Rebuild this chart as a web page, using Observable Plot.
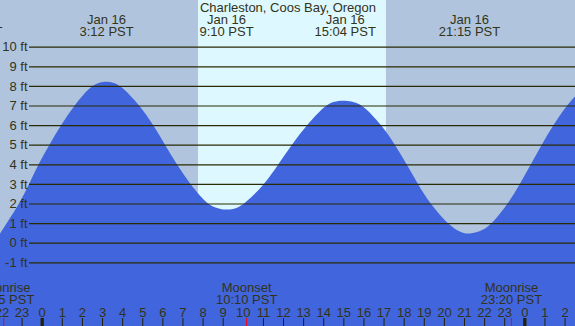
<!DOCTYPE html>
<html>
<head>
<meta charset="utf-8">
<script src="https://cdn.jsdelivr.net/npm/d3@7"></script>
<script src="https://cdn.jsdelivr.net/npm/@observablehq/plot@0.6"></script>
<style>
  html, body { margin: 0; padding: 0; background: #b0c4de; }
  #chart svg { display: block; }
</style>
</head>
<body>
<div id="chart"></div>
<script>
// ---- data ----
const title = "Charleston, Coos Bay, Oregon";

// tide curve: hours since midnight Jan 16 (PST), height in feet
const tideHours = [-2.1, -1.74, -1.11, -0.62, -0.17, 0.38, 0.96, 1.61, 2.44, 2.9, 3.2, 3.6, 3.94, 4.89, 5.55, 6.13, 6.71, 7.37, 8.2, 8.62, 9.17, 9.7, 10.11, 11.1, 11.77, 12.43, 13.18, 14.09, 14.5, 15.07, 15.58, 15.99, 16.91, 17.57, 18.15, 18.7, 19.31, 20.14, 20.8, 21.25, 21.96, 22.46, 23.2, 23.78, 24.33, 24.86, 25.44, 26.1, 26.6];
const tideFeet  = [0.42, 1.0, 2.0, 3.0, 4.0, 5.0, 6.0, 7.0, 8.0, 8.18, 8.23, 8.17, 8.0, 7.0, 6.0, 5.0, 4.0, 3.0, 2.0, 1.78, 1.65, 1.75, 2.0, 3.0, 4.0, 5.0, 6.0, 7.0, 7.21, 7.27, 7.17, 7.0, 6.0, 5.0, 4.0, 3.0, 2.0, 1.0, 0.52, 0.42, 0.62, 1.05, 2.0, 3.0, 4.0, 5.0, 6.0, 7.0, 7.55];

// high / low tide events
const eventHours = [-3.5, 3.2, 9.167, 15.067, 21.25];
const eventDates = ["Jan 15", "Jan 16", "Jan 16", "Jan 16", "Jan 16"];
const eventTimes = ["20:30 PST", "3:12 PST", "9:10 PST", "15:04 PST", "21:15 PST"];

// sun
const sunrise = 7.77;   // 7:46
const sunset = 17.12;   // 17:07

// moon events
const moonHours = [-1.917, 10.167, 23.333];
const moonNames = ["Moonrise", "Moonset", "Moonrise"];
const moonTimes = ["22:05 PST", "10:10 PST", "23:20 PST"];

// y-axis ticks (ft)
const yTicks = [-1, 0, 1, 2, 3, 4, 5, 6, 7, 8, 9, 10];
// hour ticks along bottom
const hourTicks = d3.range(-2, 27);

// visible windows
const xDomain = [-2.074, 26.52];
const yDomain = [-4.25, 12.383];

// ---- build ----
const tide = tideHours.map((h, i) => ({h, ft: tideFeet[i]}));
const events = eventHours.map((h, i) => ({h, label: eventDates[i] + "\n" + eventTimes[i]}));
const moons = moonHours.map((h, i) => ({h, label: moonNames[i] + "\n" + moonTimes[i]}));
const bands = [
  {x1: xDomain[0] - 1, x2: sunrise, fill: "#b0c4de"},
  {x1: sunrise, x2: sunset, fill: "#ddf8ff"},
  {x1: sunset, x2: xDomain[1] + 1, fill: "#b0c4de"}
];
const hours = hourTicks.map(h => ({h, label: String(((h % 24) + 24) % 24), midnight: h % 24 === 0}));
const plainHours = hours.filter(d => !d.midnight && !moonHours.some(m => Math.abs(m - d.h) < 0.2));
const midnights = hours.filter(d => d.midnight);

const ink = "#333318";
const font = "Liberation Sans, Arial, sans-serif";

const chart = Plot.plot({
  width: 575,
  height: 326,
  margin: 0,
  x: {domain: xDomain, axis: null},
  y: {domain: yDomain, axis: null},
  style: {fontFamily: font, fontSize: "13px", background: "#b0c4de", overflow: "hidden"},
  marks: [
    Plot.rect(bands, {x1: "x1", x2: "x2", fill: "fill"}),
    Plot.areaY(tide, {x: "h", y1: yDomain[0], y2: "ft", curve: "basis", fill: "#4165dc"}),
    Plot.ruleY(yTicks, {y: d => d, stroke: "#2a2a05", strokeWidth: 1.2, insetLeft: 29}),
    Plot.text(yTicks, {y: d => d, text: d => d + " ft", frameAnchor: "left", dx: 27, textAnchor: "end", fill: ink, fontSize: 13}),
    Plot.text([title], {text: d => d, frameAnchor: "top", dy: 7.5, lineAnchor: "middle", fill: ink, fontSize: 13}),
    Plot.text(events, {x: "h", text: "label", frameAnchor: "top", dy: 25.3, lineAnchor: "middle", lineHeight: 0.98, fill: ink, fontSize: 13}),
    Plot.text(moons, {x: "h", text: "label", frameAnchor: "bottom", dy: -32.7, lineAnchor: "middle", lineHeight: 0.93, fill: ink, fontSize: 13}),
    Plot.text(hours, {x: "h", text: "label", frameAnchor: "bottom", dy: -14, lineAnchor: "middle", fill: ink, fontSize: 13}),
    Plot.ruleX(plainHours, {x: "h", stroke: "#222205", strokeWidth: 1, insetTop: 318}),
    Plot.ruleX(midnights, {x: "h", stroke: "#222205", strokeWidth: 3.3, insetTop: 318}),
    Plot.ruleX(moons, {x: "h", stroke: "#ff0000", strokeWidth: 1, insetTop: 318})
  ]
});
document.getElementById("chart").appendChild(chart);
</script>
</body>
</html>
